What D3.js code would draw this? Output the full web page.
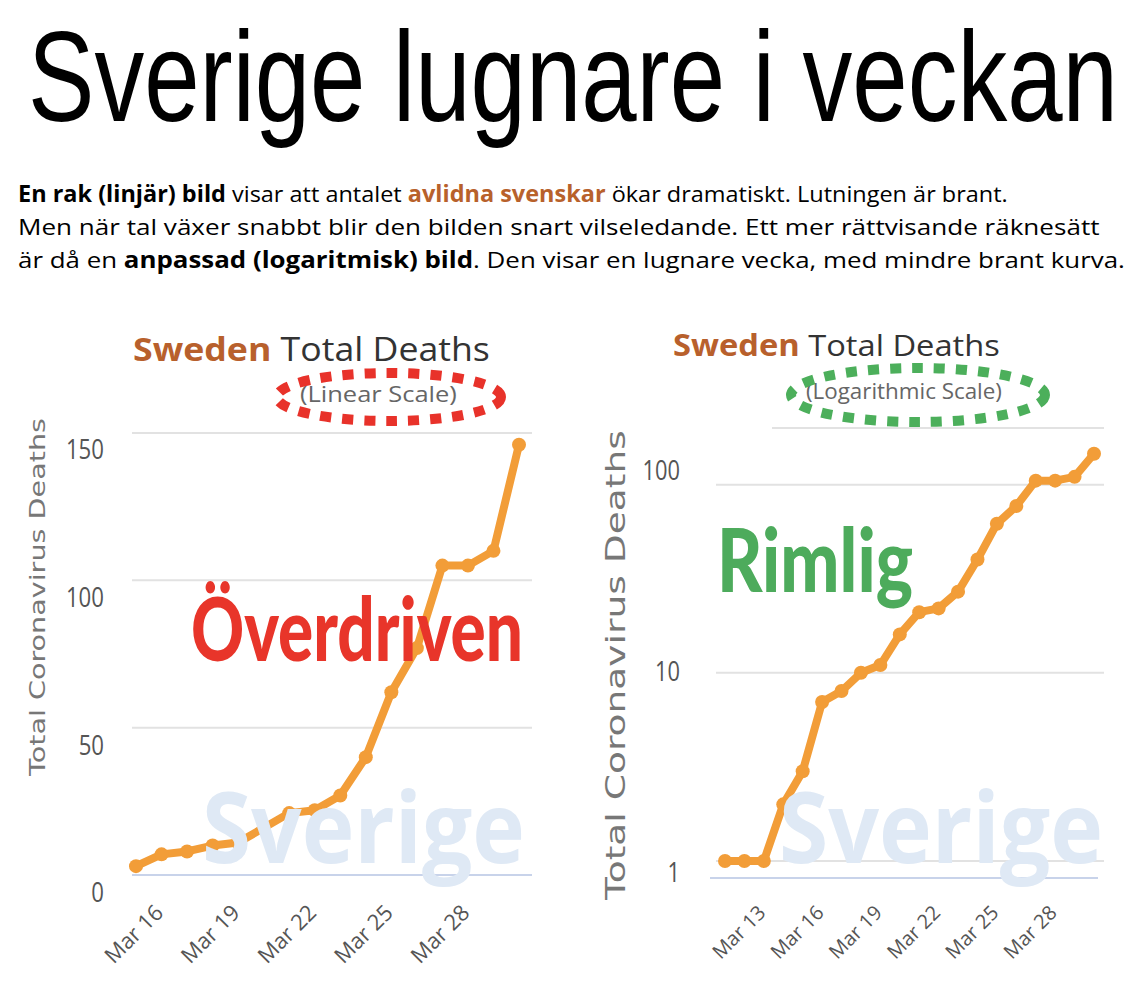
<!DOCTYPE html>
<html><head><meta charset="utf-8">
<script src="https://cdn.jsdelivr.net/npm/d3@7"></script>
<style>body{margin:0;background:#fff;} svg{display:block}</style>
</head><body>
<svg id="c" width="1138" height="994"></svg>
<script>
// ---------- data ----------
const dates = ["2020-03-11","2020-03-12","2020-03-13","2020-03-14","2020-03-15","2020-03-16","2020-03-17",
  "2020-03-18","2020-03-19","2020-03-20","2020-03-21","2020-03-22","2020-03-23","2020-03-24","2020-03-25",
  "2020-03-26","2020-03-27","2020-03-28","2020-03-29","2020-03-30"];
const deaths = [1,1,1,2,3,7,8,10,11,16,21,22,27,40,62,77,105,105,110,146];
const linearStartDate = "2020-03-15";
const linearTicks = [0,50,100,150];
const logTicks = [1,10,100];
const leftDateTicks = ["2020-03-16","2020-03-19","2020-03-22","2020-03-25","2020-03-28"];
const rightDateTicks = ["2020-03-13","2020-03-16","2020-03-19","2020-03-22","2020-03-25","2020-03-28"];
const headline = "Sverige lugnare i veckan";
const introLines = [
  [{t:"En rak (linjär) bild",k:"bold"},{t:" visar att antalet ",k:"plain"},{t:"avlidna svenskar",k:"accent"},{t:" ökar dramatiskt. Lutningen är brant.",k:"plain"}],
  [{t:"Men när tal växer snabbt blir den bilden snart vilseledande. Ett mer rättvisande räknesätt",k:"plain"}],
  [{t:"är då en ",k:"plain"},{t:"anpassad (logaritmisk) bild",k:"bold"},{t:". Den visar en lugnare vecka, med mindre brant kurva.",k:"plain"}]
];
const chartTitleParts = ["Sweden", "Total Deaths"];
const scaleNames = ["(Linear Scale)", "(Logarithmic Scale)"];
const yAxisTitle = "Total Coronavirus Deaths";
const verdicts = ["Överdriven", "Rimlig"];
const watermark = "Sverige";

// ---------- setup ----------
const parse = d3.timeParse("%Y-%m-%d");
const fmt = d3.timeFormat("%b %-d");
const series = dates.map((d,i)=>({date:parse(d), v:deaths[i]}));
const svg = d3.select("#c");

// squeeze a text horizontally to a given width, anchored at (x,y)
function fit(sel, x, y, w, rot){
  const L = sel.node().getComputedTextLength();
  const k = w / L;
  sel.attr("x",0).attr("y",0)
     .attr("transform",`translate(${x},${y})${rot?` rotate(${rot})`:""} scale(${k},1)`);
  return sel;
}

// headline
fit(svg.append("text")
  .attr("font-family","'Liberation Sans Narrow', 'Liberation Sans', Arial, sans-serif").attr("font-weight",400)
  .attr("font-size",128).attr("fill","#000").text(headline), 28, 121, 1090);

// intro paragraph
const introWidths = [990, 1082, 1107];
introLines.forEach((segs,i)=>{
  const t = svg.append("text")
    .attr("font-family","'Open Sans', sans-serif").attr("font-size",22.5).attr("fill","#000");
  segs.forEach(s=>{
    t.append("tspan").text(s.t)
      .attr("font-weight", s.k==="plain" ? 400 : 700)
      .attr("fill", s.k==="accent" ? "#b8612b" : "#000");
  });
  fit(t, 18, 202 + i*33, introWidths[i]);
});

const ORANGE = "#f29d38";

function drawChart(cfg){
  const g = svg.append("g");
  // chart title
  const tt = g.append("text")
    .attr("font-family","'Open Sans', sans-serif").attr("font-size",cfg.titleSize);
  tt.append("tspan").attr("font-weight",700).attr("fill","#b8602c").text(chartTitleParts[0]);
  tt.append("tspan").attr("font-weight",400).attr("fill","#333").text(" " + chartTitleParts[1]);
  fit(tt, cfg.titleX, cfg.titleY, cfg.titleLen);
  // scale name + dotted ellipse
  fit(g.append("text")
    .attr("font-family","'Open Sans', sans-serif").attr("font-size",21).attr("fill","#666")
    .text(cfg.scaleName), cfg.scaleX, cfg.scaleY, cfg.scaleLen);
  g.append("ellipse").attr("cx",cfg.ell[0]).attr("cy",cfg.ell[1]).attr("rx",cfg.ell[2]).attr("ry",cfg.ell[3])
    .attr("fill","none").attr("stroke",cfg.ellColor).attr("stroke-width",10)
    .attr("stroke-dasharray","11 11");
  // y title
  fit(g.append("text").attr("text-anchor","middle").attr("dy","0.35em")
    .attr("font-family","'DejaVu Sans', Verdana, sans-serif").attr("font-size",cfg.yTitleSize).attr("fill","#777")
    .text(yAxisTitle), cfg.yTitle[0], cfg.yTitle[1], cfg.yTitleLen, -90);
  // gridlines
  g.selectAll("line.grid").data(cfg.gridVals).join("line").attr("class","grid")
    .attr("x1",cfg.gridX[0]).attr("x2",cfg.gridX[1])
    .attr("y1",d=>cfg.y(d)).attr("y2",d=>cfg.y(d))
    .attr("stroke","#e2e2e2").attr("stroke-width",2);
  if (cfg.topLine) {
    g.append("line").attr("x1",cfg.topLine[0]).attr("x2",cfg.gridX[1])
      .attr("y1",cfg.y.range()[1]).attr("y2",cfg.y.range()[1])
      .attr("stroke","#e2e2e2").attr("stroke-width",2);
  }
  // baseline
  g.append("line").attr("x1",cfg.baseX[0]).attr("x2",cfg.baseX[1])
    .attr("y1",cfg.baseY).attr("y2",cfg.baseY).attr("stroke","#c8d3ea").attr("stroke-width",2);
  // y tick labels
  g.selectAll("text.yt").data(cfg.ticks).join("text").attr("class","yt")
    .attr("text-anchor","end").attr("dy","0.35em")
    .attr("font-family","'Open Sans', sans-serif").attr("font-size",cfg.tickSize).attr("fill","#555")
    .text(d=>d)
    .each(function(d){ fit(d3.select(this), cfg.tickRight, cfg.yLab(d), String(d).length*cfg.tickCharW); });
  // x labels
  const xl = g.append("g");
  if (cfg.clip) xl.attr("clip-path", `url(#${cfg.clip})`);
  xl.selectAll("text").data(cfg.dateTicks.map(parse)).join("text")
    .attr("transform",d=>`translate(${cfg.x(d)+3},${cfg.xLabY}) rotate(-45)`)
    .attr("text-anchor","end")
    .attr("font-family","'Open Sans', sans-serif").attr("font-size",cfg.xLabSize).attr("fill","#555")
    .text(d=>fmt(d));
  // line + markers
  const line = d3.line().x(d=>cfg.x(d.date)).y(d=>cfg.y(d.v));
  g.append("path").datum(cfg.data).attr("d",line).attr("fill","none")
    .attr("stroke",ORANGE).attr("stroke-width",8).attr("stroke-linejoin","round").attr("stroke-linecap","round");
  g.selectAll("circle").data(cfg.data).join("circle")
    .attr("cx",d=>cfg.x(d.date)).attr("cy",d=>cfg.y(d.v)).attr("r",7).attr("fill",ORANGE);
  // watermark
  fit(g.append("text")
    .attr("font-family","'Open Sans', sans-serif").attr("font-weight",700).attr("font-size",98)
    .attr("fill","#dfe9f5").text(watermark), cfg.wm[0], cfg.wm[1], cfg.wm[2]);
  // verdict
  fit(g.append("text")
    .attr("font-family","Lato, 'Open Sans', sans-serif").attr("font-weight",900).attr("font-size",cfg.verdict[3])
    .attr("fill",cfg.verdictColor).text(cfg.verdictText), cfg.verdict[0], cfg.verdict[1], cfg.verdict[2]);
}

// clip for left x labels
svg.append("defs").append("clipPath").attr("id","clipL")
  .append("rect").attr("x",104).attr("y",860).attr("width",460).attr("height",140);

const linData = series.filter(d=>d.date >= parse(linearStartDate));
const xL = d3.scaleTime().domain(d3.extent(linData,d=>d.date)).range([136,519]);
const yL = d3.scaleLinear().domain([0,150]).range([875,433]);
const yLlab = d3.scaleLinear().domain([0,150]).range([893,450]);

drawChart({
  data: linData, x: xL, y: yL, yLab: yLlab, ticks: linearTicks, gridVals: linearTicks.filter(v=>v>0),
  gridX:[132,532], baseX:[132,532], baseY: yL(0), tickRight:104, tickSize:27, tickCharW:12.7,
  titleX:133, titleY:361, titleSize:32, titleLen:357,
  scaleName: scaleNames[0], scaleX:300, scaleY:402, scaleLen:157,
  ell:[389,397,112,24], ellColor:"#e8322a",
  yTitle:[37,597], yTitleSize:22, yTitleLen:358,
  dateTicks: leftDateTicks, xLabY:914, xLabSize:22, clip:"clipL",
  wm:[202,863,323],
  verdictText: verdicts[0], verdict:[191,661,332,88], verdictColor:"#e8352a"
});

const xR = d3.scaleTime().domain(d3.extent(series,d=>d.date)).range([725,1094]);
const yR = d3.scaleLog().domain([1,200]).range([861,428]);
const yRlab = d3.scaleLog().domain([1,100]).range([872,470]);

drawChart({
  data: series, x: xR, y: yR, yLab: yRlab, ticks: logTicks, gridVals: logTicks,
  gridX:[716,1104], topLine:[772], baseX:[710,1098], baseY:878, tickRight:680, tickSize:28, tickCharW:12.5,
  titleX:673, titleY:356, titleSize:30, titleLen:327,
  scaleName: scaleNames[1], scaleX:806, scaleY:399, scaleLen:196,
  ell:[918,395,127,27], ellColor:"#4caf5b",
  yTitle:[616,665], yTitleSize:27, yTitleLen:470,
  dateTicks: rightDateTicks, xLabY:914, xLabSize:20,
  wm:[779,863,324],
  verdictText: verdicts[1], verdict:[717,592,196,88], verdictColor:"#4dab5c"
});
</script>
</body></html>
